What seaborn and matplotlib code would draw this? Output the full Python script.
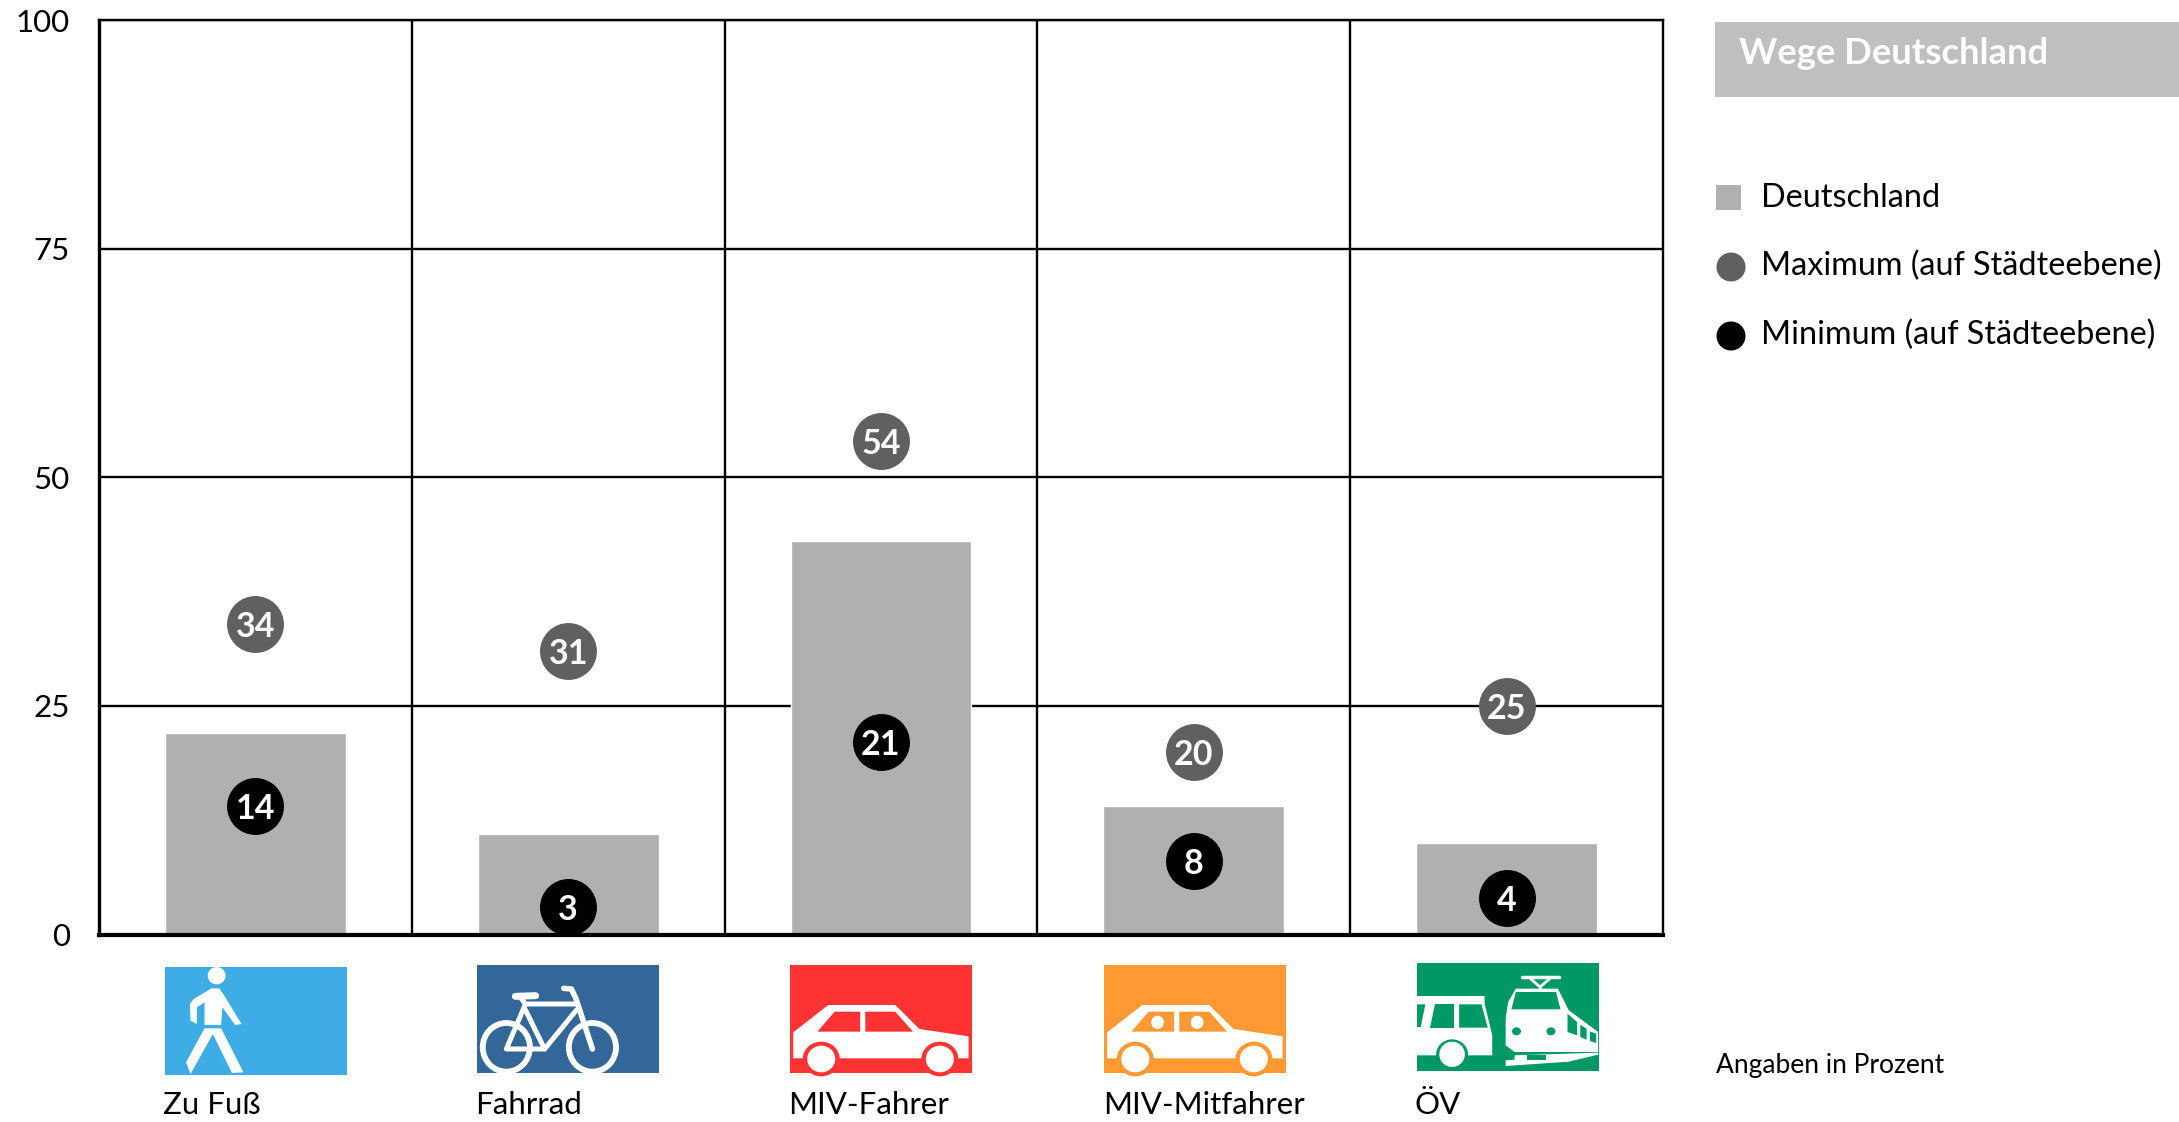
import matplotlib
matplotlib.use("Agg")
import matplotlib.pyplot as plt
from matplotlib.patches import Ellipse, Polygon, Rectangle
import pandas as pd
import seaborn as sns

# values
categories = ["Zu Fuß", "Fahrrad", "MIV-Fahrer", "MIV-Mitfahrer", "ÖV"]
deutschland = [22, 11, 43, 14, 10]
maximum = [34, 31, 54, 20, 25]
minimum = [14, 3, 21, 8, 4]
y_ticks = [0, 25, 50, 75, 100]

GREY_BAR = "#B0B0B0"
GREY_MAX = "#606060"
FONT = "Lato"
W, H = 2179, 1122

sns.set_theme(style="white")
plt.rcParams["font.family"] = [FONT, "DejaVu Sans"]

fig = plt.figure(figsize=(W / 100, H / 100), dpi=100)
ax = fig.add_axes([99 / W, 1 - 934.5 / H, (1663 - 99) / W, (934.5 - 20) / H])

df = pd.DataFrame({"kategorie": categories, "wert": deutschland})
sns.barplot(data=df, x="kategorie", y="wert", color=GREY_BAR, saturation=1,
            width=0.578, ax=ax, zorder=2)

pos = list(range(len(categories)))
sns.scatterplot(x=pos, y=maximum, color=GREY_MAX, s=1680, linewidth=0, ax=ax, zorder=3, clip_on=False)
sns.scatterplot(x=pos, y=minimum, color="black", s=1680, linewidth=0, ax=ax, zorder=3, clip_on=False)
for values in (maximum, minimum):
    for i, v in enumerate(values):
        ax.text(i, v, str(v), color="white", fontsize=24.5, fontweight="bold",
                ha="center", va="center_baseline", zorder=4)

ax.set_xlim(-0.5, 4.5)
ax.set_ylim(0, 100)
ax.set_xlabel("")
ax.set_ylabel("")
ax.set_yticks(y_ticks)
ax.set_xticks(pos)
ax.set_xticklabels([])
ax.set_xticks([0.5, 1.5, 2.5, 3.5], minor=True)
ax.tick_params(axis="x", which="both", length=0)
ax.tick_params(axis="y", length=8, width=1.3, color="#222222", labelsize=22.5, labelcolor="black", pad=13)
ax.grid(True, axis="y", color="black", linewidth=1.7)
ax.grid(True, axis="x", which="minor", color="black", linewidth=1.7)
ax.set_axisbelow(True)
for side in ("top", "right"):
    ax.spines[side].set_color("black")
    ax.spines[side].set_linewidth(1.7)
ax.spines["left"].set_color("black")
ax.spines["left"].set_linewidth(2.4)
ax.spines["bottom"].set_color("black")
ax.spines["bottom"].set_linewidth(3)

# overlay in reference pixels, for legend and pictograms
ov = fig.add_axes([0, 0, 1, 1], facecolor="none")
ov.set_xlim(0, W)
ov.set_ylim(H, 0)
ov.axis("off")


def icon(x0, y0, color):
    # icon shapes are sketched in a 285x324 box, stretched to 182x108 px
    ov.add_patch(Rectangle((x0, y0), 182, 108, color=color, lw=0))

    def pt(u, v):
        return (x0 + u / 1.568, y0 + v / 3)

    def poly(points, c="white"):
        ov.add_patch(Polygon([pt(u, v) for u, v in points], closed=True, color=c, lw=0))

    def ell(u, v, ru, rv, c="white", **kw):
        ov.add_patch(Ellipse(pt(u, v), 2 * ru / 1.568, 2 * rv / 3, facecolor=c, edgecolor=kw.get("ec", "none"),
                             lw=kw.get("lw", 0)))

    def line(points, lw=3.6):
        xy = [pt(u, v) for u, v in points]
        ov.plot([p[0] for p in xy], [p[1] for p in xy], color="white", lw=lw, solid_capstyle="round")

    return poly, ell, line


def walker(x0, y0, color):
    poly, ell, line = icon(x0, y0, color)
    ell(81, 26, 14, 26)
    poly([(73, 64), (85, 64), (93, 86), (120, 171), (110, 174), (90, 121), (88, 174), (62, 174),
          (62, 106), (50, 121), (50, 171), (40, 161), (39, 111), (45, 96)])
    poly([(62, 184), (88, 184), (123, 316), (105, 318), (75, 201), (40, 321), (33, 286)])


def bike(x0, y0, color):
    poly, ell, line = icon(x0, y0, color)
    ell(46, 247, 37, 73, c="none", ec="white", lw=4.2)
    ell(181, 247, 37, 73, c="none", ec="white", lw=4.2)
    line([(156, 117), (76, 117), (46, 252), (106, 252), (156, 135)])
    line([(76, 135), (106, 252)])
    line([(66, 92), (76, 117)])
    line([(60, 94), (92, 92)], lw=5)
    line([(136, 70), (148, 72), (155, 100), (181, 252)], lw=4)


def car(x0, y0, color, heads=False):
    poly, ell, line = icon(x0, y0, color)
    poly([(5, 202), (60, 120), (165, 120), (203, 192), (280, 214), (280, 280), (5, 280)])
    poly([(43, 200), (70, 140), (110, 140), (110, 200)], color)
    poly([(118, 140), (165, 140), (193, 200), (118, 200)], color)
    if heads:
        ell(84, 172, 10, 20)
        ell(146, 172, 10, 20)
    for u in (49, 235):
        ell(u, 282, 29, 52, c=color)
        ell(u, 282, 22, 40)


def oev(x0, y0, color):
    poly, ell, line = icon(x0, y0, color)
    # bus
    poly([(0, 99), (106, 99), (106, 122), (118, 217), (118, 277), (0, 277)])
    poly([(0, 124), (13, 124), (6, 192), (0, 192)], color)
    poly([(28, 124), (58, 124), (58, 194), (20, 194)], color)
    poly([(66, 124), (101, 124), (111, 194), (66, 194)], color)
    ell(55, 274, 25, 45, c=color)
    ell(55, 274, 20, 38)
    # train
    poly([(155, 77), (221, 77), (238, 142), (284, 207), (284, 267), (153, 267), (139, 247), (139, 167), (143, 117)])
    poly([(155, 87), (218, 87), (225, 139), (148, 139)], color)
    poly([(236, 152), (251, 177), (251, 217), (236, 207)], color)
    poly([(256, 185), (266, 197), (266, 230), (256, 222)], color)
    poly([(271, 205), (281, 212), (281, 240), (271, 234)], color)
    ell(156, 205, 7, 12, c=color)
    ell(210, 205, 7, 12, c=color)
    line([(165, 43), (223, 43)], lw=2.5)
    line([(178, 47), (193, 72), (208, 47)], lw=2)
    line([(193, 72), (193, 80)], lw=2)
    poly([(153, 277), (284, 269), (284, 275), (238, 296), (139, 309), (139, 292), (153, 290)])
    poly([(173, 277), (203, 277), (203, 290), (173, 290)], color)


walker(165, 967, "#3FADE5")
bike(477, 965, "#336699")
car(790, 965, "#FF3333")
car(1104, 965, "#FF9933", heads=True)
oev(1417, 963, "#009966")

for x, name in zip([163, 475, 788, 1103, 1414], categories):
    ov.text(x, 1105, name, fontsize=22.5, color="black", ha="left", va="center")

# header and legend
ov.add_patch(Rectangle((1715, 22), W - 1715, 75, color="#BFBFBF", lw=0))
ov.text(1739, 53, "Wege Deutschland", fontsize=26.3, fontweight="bold", color="white", ha="left", va="center")
ov.add_patch(Rectangle((1716, 185), 25, 25, color=GREY_BAR, lw=0))
ov.add_patch(Ellipse((1731, 267), 29, 29, color=GREY_MAX, lw=0))
ov.add_patch(Ellipse((1731, 336), 29, 29, color="black", lw=0))
ov.text(1761, 198, "Deutschland", fontsize=23.3, color="black", ha="left", va="center")
ov.text(1761, 266, "Maximum (auf Städteebene)", fontsize=23.3, color="black", ha="left", va="center")
ov.text(1761, 335, "Minimum (auf Städteebene)", fontsize=23.3, color="black", ha="left", va="center")
ov.text(1716, 1065, "Angaben in Prozent", fontsize=19, color="black", ha="left", va="center")

fig.savefig("out.png", dpi=100)
